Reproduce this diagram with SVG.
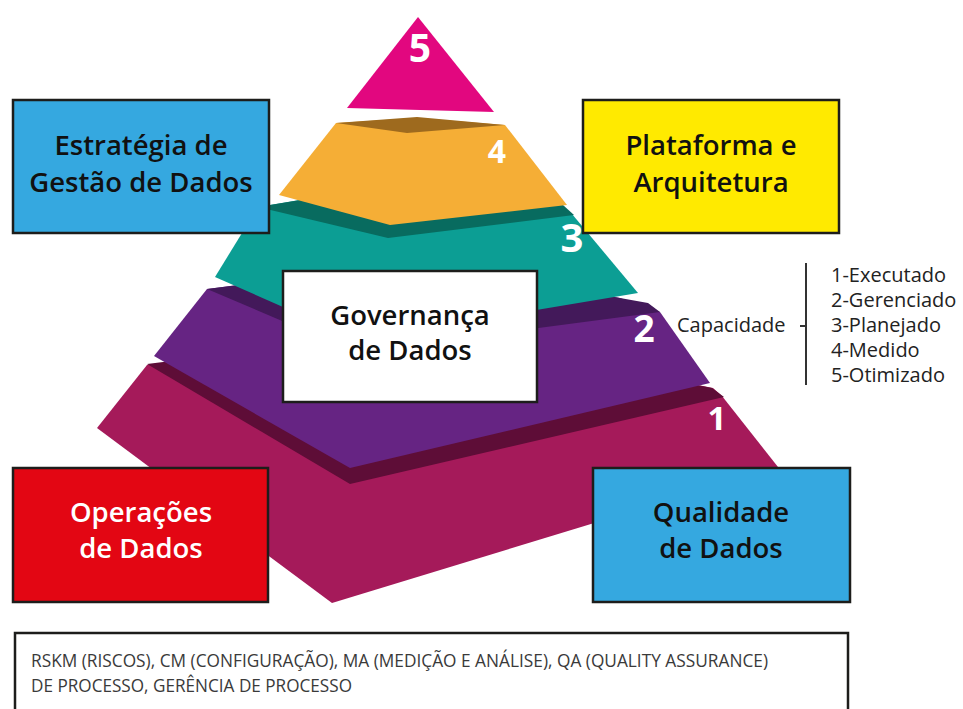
<svg xmlns="http://www.w3.org/2000/svg" width="963" height="709" viewBox="0 0 963 709">
<style>
.box{stroke:#1d1d1b;stroke-width:2.5}
.t{font-family:"Open Sans","Noto Sans","DejaVu Sans",sans-serif;font-weight:600;font-size:27.5px;text-anchor:middle;fill:#111}
.tw{fill:#fff}
.num{font-family:"Open Sans","Noto Sans","DejaVu Sans",sans-serif;font-weight:700;fill:#fff;text-anchor:middle}
.lbl{font-family:"Open Sans","Noto Sans","DejaVu Sans",sans-serif;font-size:20px;fill:#222}
.note{font-family:"Open Sans","Noto Sans","DejaVu Sans",sans-serif;font-size:17.5px;font-weight:500;fill:#3a3a3a}
</style>
<rect width="963" height="709" fill="#fff"/>

<g id="layer1">
<polygon points="147,365 97,428 332,603 778,467 722,396 713,388 420,330" fill="#A51A5A"/>
<polygon points="147,364 350,484 724,397 712,388 420,330" fill="#5E0D37"/>
</g>
<g id="layer2">
<polygon points="207,289 154,356 350,468 710,383 660,312 620,298 420,262" fill="#662483"/>
<polygon points="207,289 355,352 660,312 648,303 620,298 420,262" fill="#43195A"/>
</g>
<g id="layer3">
<polygon points="258,207 215,277 358,340 638,293 572,214 560,205 420,180" fill="#0C9E94"/>
<polygon points="258,207 388,238 574,215 563,205 420,180" fill="#086B5F"/>
</g>
<g id="layer4">
<polygon points="336,123 279,195 390,225 567,205 505,125 417,118" fill="#F5AE36"/>
<polygon points="336,123 407,133 505,125 417,117" fill="#9E6A1E"/>
</g>
<g id="layer5">
<polygon points="418,17 347,108 494,112" fill="#E2077F"/>
</g>

<g id="numbers">
<text class="num" x="420" y="62" font-size="39">5</text>
<text class="num" x="497" y="163" font-size="32">4</text>
<text class="num" x="572" y="252" font-size="40">3</text>
<text class="num" x="644" y="342" font-size="37">2</text>
<text class="num" x="717" y="430" font-size="33">1</text>
</g>

<g id="estrategia">
<rect class="box" x="13" y="100" width="256" height="133" fill="#35A8E0"/>
<text class="t" x="141" y="155">Estratégia de</text>
<text class="t" x="141" y="192">Gestão de Dados</text>
</g>
<g id="plataforma">
<rect class="box" x="583" y="100" width="256" height="133" fill="#FFEA00"/>
<text class="t" x="711" y="155">Plataforma e</text>
<text class="t" x="711" y="192">Arquitetura</text>
</g>
<g id="governanca">
<rect class="box" x="283" y="271" width="254" height="131" fill="#fff"/>
<text class="t" x="410" y="325">Governança</text>
<text class="t" x="410" y="360">de Dados</text>
</g>
<g id="operacoes">
<rect class="box" x="13" y="468" width="255" height="134" fill="#E30613"/>
<text class="t tw" x="141" y="522">Operações</text>
<text class="t tw" x="141" y="558">de Dados</text>
</g>
<g id="qualidade">
<rect class="box" x="593" y="468" width="257" height="134" fill="#35A8E0"/>
<text class="t" x="721" y="522">Qualidade</text>
<text class="t" x="721" y="558">de Dados</text>
</g>

<g id="capacidade">
<text class="lbl" x="677" y="332">Capacidade</text>
<g id="connectors">
<line x1="806" y1="263" x2="806" y2="385" stroke="#333" stroke-width="2"/>
<line x1="800" y1="326" x2="806" y2="326" stroke="#333" stroke-width="2"/>
</g>
<text class="lbl" x="831" y="282">1-Executado</text>
<text class="lbl" x="831" y="307">2-Gerenciado</text>
<text class="lbl" x="831" y="332">3-Planejado</text>
<text class="lbl" x="831" y="357">4-Medido</text>
<text class="lbl" x="831" y="382">5-Otimizado</text>
</g>

<g id="nota">
<rect class="box" x="15" y="633" width="833" height="90" fill="#fff"/>
<text class="note" x="31" y="667" textLength="737" lengthAdjust="spacingAndGlyphs">RSKM (RISCOS), CM (CONFIGURAÇÃO), MA (MEDIÇÃO E ANÁLISE), QA (QUALITY ASSURANCE)</text>
<text class="note" x="31" y="692" textLength="321" lengthAdjust="spacingAndGlyphs">DE PROCESSO, GERÊNCIA DE PROCESSO</text>
</g>
</svg>
